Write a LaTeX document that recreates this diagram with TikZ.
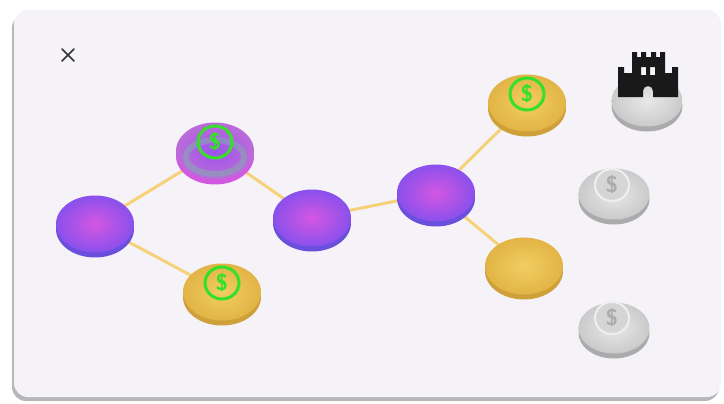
\documentclass[tikz,border=0pt]{standalone}
\usetikzlibrary{shapes.geometric,shadows,backgrounds}

\definecolor{cardbg}{HTML}{F5F3F8}
\definecolor{linkgold}{HTML}{F5D27A}
\definecolor{cashgreen}{HTML}{35E02A}
\definecolor{violetpink}{HTML}{D457E2}
\definecolor{violetrim}{HTML}{8A50EC}
\definecolor{violetedge}{HTML}{6A4FDC}
\definecolor{mixtop}{HTML}{9C52EC}
\definecolor{mixrim}{HTML}{BC6CD8}
\definecolor{mixring}{HTML}{6EC89E}
\definecolor{goldtop}{HTML}{F1CD62}
\definecolor{goldrim}{HTML}{E2B445}
\definecolor{goldedge}{HTML}{CFA03A}
\definecolor{silvertop}{HTML}{E8E8E8}
\definecolor{silverrim}{HTML}{CACACA}
\definecolor{silveredge}{HTML}{ABABAB}

\tikzset{
  coin/.style={ellipse, inner sep=0pt, minimum width=1.56cm, minimum height=1.14cm},
  purple coin/.style={coin, shading=radial, inner color=violetpink, outer color=violetrim,
    general shadow={fill=violetedge, shadow yshift=-0.1cm}},
  mixed coin/.style={coin, shading=radial, inner color=mixtop, outer color=mixrim,
    general shadow={fill=violetpink, shadow yshift=-0.1cm},
    path picture={
      \draw[mixring, opacity=0.4, line width=0.12cm]
        ([yshift=-0.12cm]path picture bounding box.center)
        ellipse[x radius=0.58cm, y radius=0.34cm];}},
  gold coin/.style={coin, shading=radial, inner color=goldtop, outer color=goldrim,
    general shadow={fill=goldedge, shadow yshift=-0.1cm}},
  silver coin/.style={coin, minimum width=1.42cm, minimum height=1.02cm, shading=radial,
    inner color=silvertop, outer color=silverrim,
    general shadow={fill=silveredge, shadow yshift=-0.1cm}},
  link/.style={draw=linkgold, line width=0.06cm},
  cash/.style={ellipse, draw=cashgreen, line width=0.06cm, inner sep=0pt,
    minimum width=0.68cm, minimum height=0.64cm, text=cashgreen,
    font=\fontsize{13}{13}\sffamily\bfseries},
  locked cash/.style={cash, draw=white!70!silverrim, fill=silverrim!80!white,
    text=silverrim!85!black, line width=0.04cm},
}

\begin{document}
\begin{tikzpicture}[x=0.02cm, y=-0.02cm]
  \useasboundingbox (0,0) rectangle (724,403);

  % card
  \begin{scope}[on background layer]
    \path[fill=cardbg, rounded corners=0.28cm,
      drop shadow={shadow xshift=-0.04cm, shadow yshift=-0.08cm, fill=black!40, opacity=0.7}]
      (14,10) rectangle (721,397);
  \end{scope}

  % close button
  \draw[black!80, line width=0.035cm, line cap=round] (62,49) -- (74,61) (74,49) -- (62,61);

  % path nodes
  \node[purple coin] (A) at (95,224) {};
  \node[mixed coin]  (B) at (215,151) {};
  \node[gold coin]   (C) at (222,292) {};
  \node[purple coin] (D) at (312,218) {};
  \node[purple coin] (E) at (436,193) {};
  \node[gold coin]   (F) at (527,103) {};
  \node[gold coin]   (G) at (524,266) {};

  % locked nodes
  \node[silver coin] (H) at (647,101) {};
  \node[silver coin] (I) at (614,194) {};
  \node[silver coin] (J) at (614,328) {};

  % rewards
  \node[cash] (cashB) at (215,142) {\$};
  \node[cash] (cashC) at (222,283) {\$};
  \node[cash] (cashF) at (527,94) {\$};
  \node[locked cash] (cashI) at (612,185) {\$};
  \node[locked cash] (cashJ) at (612,318) {\$};

  % castle
  \fill[black!90, even odd rule]
    (618,97) -- (618,67) -- (624,67) -- (624,73) -- (632,73) -- (632,52)
    -- (637,52) -- (637,57) -- (641,57) -- (641,52) -- (646,52) -- (646,57)
    -- (651,57) -- (651,52) -- (656,52) -- (656,57) -- (660,57) -- (660,52)
    -- (665,52) -- (665,73) -- (672,73) -- (672,67) -- (678,67) -- (678,97)
    -- (653,97) -- (653,91) arc[start angle=0, end angle=180, radius=0.1cm]
    -- (643,97) -- cycle
    (641,67) rectangle (646,75)
    (650,67) rectangle (655,75);

  % links
  \begin{scope}[on background layer]
    \draw[link] (A.center) -- (B.center);
    \draw[link] (A.center) -- (C.center);
    \draw[link] (B.center) -- (D.center);
    \draw[link] (D.center) -- (E.center);
    \draw[link] (E.center) -- (F.center);
    \draw[link] (E.center) -- (G.center);
  \end{scope}
\end{tikzpicture}
\end{document}
